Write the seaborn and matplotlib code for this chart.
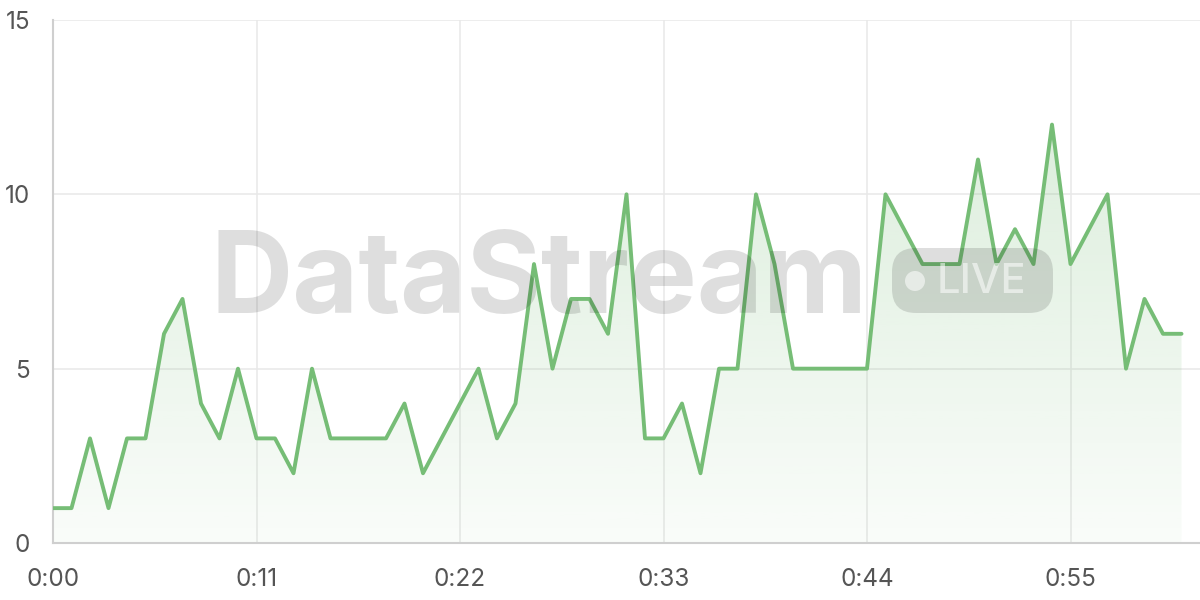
import numpy as np
import pandas as pd
import matplotlib
matplotlib.use("Agg")
import matplotlib.pyplot as plt
import seaborn as sns
from matplotlib.patches import FancyBboxPatch, Circle
from matplotlib.transforms import IdentityTransform

# one reading per second, 0:00 .. 1:01
seconds = list(range(62))
values = [1, 1, 3, 1, 3, 3, 6, 7, 4, 3,
          5, 3, 3, 2, 5, 3, 3, 3, 3, 4,
          2, 3, 4, 5, 3, 4, 8, 5, 7, 7,
          6, 10, 3, 3, 4, 2, 5, 5, 10, 8,
          5, 5, 5, 5, 5, 10, 9, 8, 8, 8,
          11, 8, 9, 8, 12, 8, 9, 10, 5, 7,
          6, 6]
x_ticks = [0, 11, 22, 33, 44, 55]
x_tick_labels = ["0:00", "0:11", "0:22", "0:33", "0:44", "0:55"]
y_ticks = [0, 5, 10, 15]

df = pd.DataFrame({"t": seconds, "v": values})

sns.set_style("white")
plt.rcParams["font.family"] = ["Inter", "DejaVu Sans"]

line_color = "#76bd76"
grid_color = "#e8e8e8"

fig = plt.figure(figsize=(12, 6), dpi=100)
ax = fig.add_axes([53 / 1200, 57 / 600, 1 - 53 / 1200, 523 / 600])

# gradient fill under the line, clipped to the area polygon
area = ax.fill_between(df["t"], df["v"], 0, color="none", lw=0)
grad = np.zeros((256, 1, 4))
grad[:, 0, 0] = 118 / 255
grad[:, 0, 1] = 188 / 255
grad[:, 0, 2] = 118 / 255
grad[:, 0, 3] = np.linspace(0.25, 0.04, 256)
top = max(values)
img = ax.imshow(grad, aspect="auto", extent=[0, max(seconds), 0, top],
                origin="upper", zorder=1.5)
img.set_clip_path(area.get_paths()[0], transform=ax.transData)

sns.lineplot(data=df, x="t", y="v", ax=ax, color=line_color, lw=2.8, zorder=3)

ax.set_xlim(0, 62)
ax.set_ylim(0, 15)
ax.set_xticks(x_ticks)
ax.set_xticklabels(x_tick_labels)
ax.set_yticks(y_ticks)
ax.set_xlabel("")
ax.set_ylabel("")
ax.grid(True, color=grid_color, lw=1.1, zorder=0)
ax.set_axisbelow(True)

for s in ["top", "right"]:
    ax.spines[s].set_visible(False)
for s in ["left", "bottom"]:
    ax.spines[s].set_color("#cfcfcf")
    ax.spines[s].set_linewidth(1.5)

ax.tick_params(axis="y", length=11.5, width=1.1, color=grid_color, pad=5,
               labelsize=17.5, labelcolor="#555555")
ax.tick_params(axis="x", length=7, width=1.1, color=grid_color, pad=11,
               labelsize=17.5, labelcolor="#555555")

# watermark
fig.text(210 / 1200, 287 / 600, "DataStream", fontsize=82, fontweight="bold",
         family=["Inter", "DejaVu Sans"], color="black", alpha=0.13,
         ha="left", va="baseline", zorder=2)
badge = FancyBboxPatch((892, 287), 161, 65, boxstyle="round,pad=0,rounding_size=24",
                       transform=IdentityTransform(), fc=(0, 0, 0, 0.13), ec="none",
                       zorder=2)
fig.add_artist(badge)
fig.add_artist(Circle((915, 319), 10, transform=IdentityTransform(),
                      fc=(1, 1, 1, 0.55), ec="none", zorder=2.1))
fig.text(937 / 1200, 307 / 600, "LIVE", fontsize=30, fontweight="medium",
         color=(1, 1, 1, 0.55), ha="left", va="baseline", zorder=2.1)

plt.savefig("out.png", dpi=100)
